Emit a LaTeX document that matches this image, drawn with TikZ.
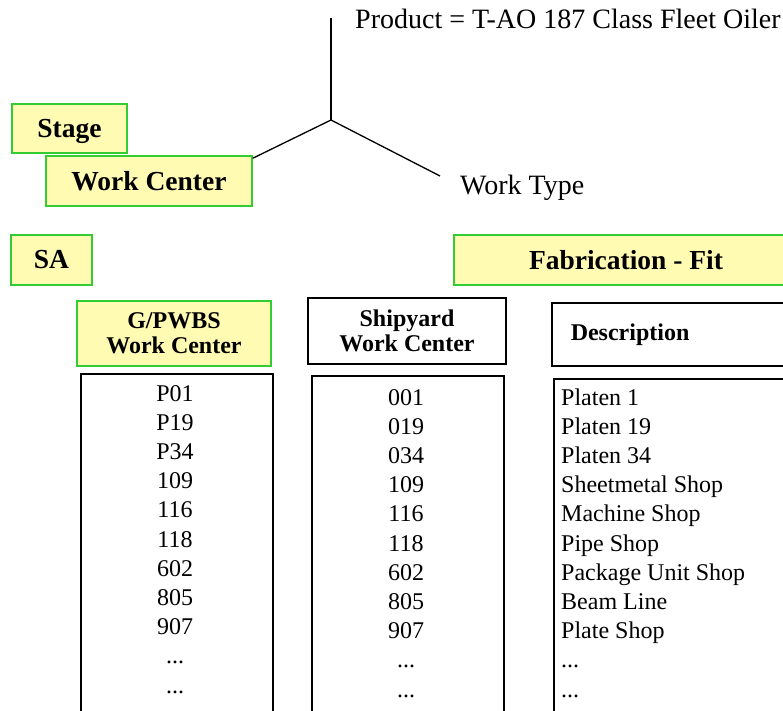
\documentclass[tikz,border=0pt]{standalone}
\usepackage{fontspec}
\setmainfont{Liberation Serif}
\newcommand\moredots{...}
\begin{document}
\begin{tikzpicture}[x=1pt,y=-1pt,
  big/.style={font=\fontsize{28}{33}\selectfont},
  hbold/.style={font=\fontsize{27.5}{33}\selectfont\bfseries},
  sbold/.style={font=\fontsize{24}{25}\selectfont\bfseries},
  cell/.style={font=\fontsize{24}{28}\selectfont, inner sep=0pt},
  ybox/.style={draw=green!75!black!80, fill=yellow!30, line width=1.5pt, inner sep=0pt},
  wbox/.style={draw=black, fill=white, line width=1.5pt, inner sep=0pt},
  conn/.style={line width=1.3pt}]
\useasboundingbox (0,0) rectangle (783,710);
\clip (0,0) rectangle (783,710);

% product axes
\coordinate (top) at (331,18);
\coordinate (j) at (331,120);
\coordinate (wtend) at (440,176);
\node[big, anchor=base west, inner sep=0pt] (prod) at (355,28) {Product = T-AO 187 Class Fleet Oiler};
\node[big, anchor=base west, inner sep=0pt] (wtype) at (460,194) {Work Type};

% stage / work center labels
\node[ybox, hbold, text depth=0pt, minimum width=115pt, minimum height=49pt] (stage) at (69.5,128.5) {Stage};
\node[ybox, hbold, minimum width=206pt, minimum height=50pt] (wc) at (149,181) {Work Center};

\draw[conn] (top) -- (j);
\draw[conn] (j) -- ([yshift=-3pt]wc.north east);
\draw[conn] (j) -- (wtend);

\node[ybox, hbold, minimum width=81pt, minimum height=50pt] (sa) at (51.5,260) {SA};
\node[ybox, hbold, minimum width=344pt, minimum height=50pt] (fab) at (626,260) {Fabrication - Fit};

% column headers
\node[ybox, sbold, minimum width=194pt, minimum height=65pt, align=center] (h1) at (174,333.5) {G/PWBS\\Work Center};
\node[wbox, sbold, minimum width=198pt, minimum height=66pt, align=center] (h2) at (407,331) {Shipyard\\Work Center};
\node[wbox, sbold, anchor=west, minimum height=63pt, text width=211pt, inner xsep=19pt, align=left] (h3) at (551,334.5) {Description};

% column bodies
\node[wbox, minimum width=192pt, minimum height=350pt, anchor=north west] (c1) at (80,373) {};
\node[wbox, minimum width=192pt, minimum height=350pt, anchor=north west] (c2) at (311,375) {};
\node[wbox, minimum width=250pt, minimum height=350pt, anchor=north west] (c3) at (553,378) {};

\foreach \t [count=\i from 0] in {P01,P19,P34,109,116,118,602,805,907,\moredots,\moredots}
  \node[cell, anchor=base] (a\i) at (175,{401+29.2*\i}) {\t};
\foreach \t [count=\i from 0] in {001,019,034,109,116,118,602,805,907,\moredots,\moredots}
  \node[cell, anchor=base] (b\i) at (406,{405+29.2*\i}) {\t};
\foreach \t [count=\i from 0] in {Platen 1,Platen 19,Platen 34,Sheetmetal Shop,Machine Shop,Pipe Shop,Package Unit Shop,Beam Line,Plate Shop,\moredots,\moredots}
  \node[cell, anchor=base west] (d\i) at (561,{405+29.2*\i}) {\t};
\end{tikzpicture}
\end{document}
